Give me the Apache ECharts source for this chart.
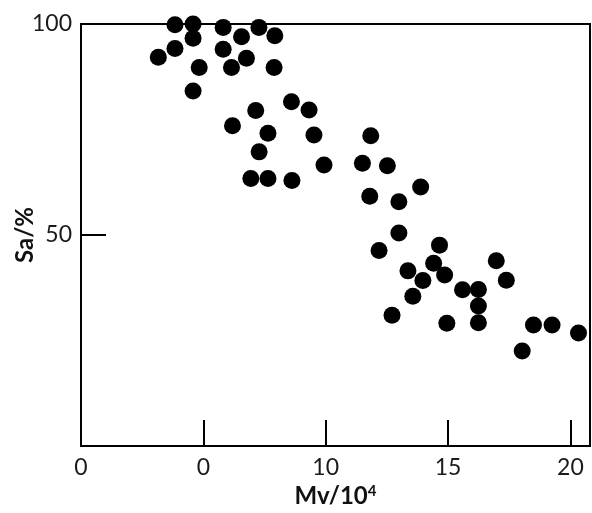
<!DOCTYPE html>
<html>
<head>
<meta charset="utf-8">
<script src="https://cdn.jsdelivr.net/npm/echarts@6/dist/echarts.min.js"></script>
<style>
html,body{margin:0;padding:0;background:#fff;}
#c{width:592px;height:513px;}
</style>
</head>
<body>
<div id="c"></div>
<script>
// Mv/10^4 values
var mv = [3.16,3.84,3.84,4.58,4.58,4.83,4.58,5.81,5.81,6.15,6.56,6.76,7.27,7.92,7.89,
  6.19,7.14,7.64,7.28,6.94,7.64,8.60,9.32,9.52,9.93,8.62,
  11.84,11.50,12.52,13.88,11.80,12.99,12.99,12.18,14.65,14.41,13.36,14.86,13.97,15.59,16.24,13.56,16.24,12.71,14.95,16.24,
  16.97,17.38,18.49,19.25,20.33,18.03];
// Sa/% values
var sa = [92.1,94.2,99.8,100.0,96.6,89.7,84.1,99.2,94.0,89.7,97.0,91.9,99.2,97.2,89.7,
  75.9,79.5,74.1,69.7,63.4,63.4,81.6,79.6,73.7,66.6,62.9,
  73.5,67.0,66.4,61.4,59.2,57.9,50.5,46.3,47.6,43.3,41.5,40.5,39.2,37.0,37.1,35.5,33.2,31.0,29.1,29.2,
  43.9,39.3,28.7,28.7,26.8,22.5];
// tick labels as printed on the original
var xTickLabels = {0:'0',5:'0',10:'10',15:'15',20:'20'};
var yTickLabels = {50:'50',100:'100'};

var pts = mv.map(function(v,i){return [v, sa[i]];});
var FONT = 'Lato, "Open Sans", sans-serif';
var chart = echarts.init(document.getElementById('c'), null, {renderer:'canvas'});
chart.setOption({
  animation:false,
  backgroundColor:'#fff',
  grid:{left:81,right:2,top:24,bottom:67,outerBoundsMode:'none',containLabel:false,
        show:true,borderColor:'#000',borderWidth:2,backgroundColor:'transparent'},
  xAxis:{
    type:'value',min:0,max:20.8,interval:5,
    name:'{a|Mv/10}{b|4}',nameLocation:'middle',nameGap:38,nameMoveOverlap:false,
    nameTextStyle:{rich:{a:{fontFamily:FONT,fontWeight:'bold',fontSize:24,color:'#111'},
                         b:{fontFamily:FONT,fontWeight:'bold',fontSize:15,color:'#111',verticalAlign:'top'}}},
    axisLine:{lineStyle:{color:'#000',width:2}},
    axisTick:{inside:true,length:26,lineStyle:{color:'#000',width:2}},
    axisLabel:{margin:10,fontFamily:FONT,fontSize:23,color:'#1a1a1a',
      formatter:function(v){return xTickLabels.hasOwnProperty(v)?xTickLabels[v]:'';}},
    splitLine:{show:false}
  },
  yAxis:{
    type:'value',min:0,max:100,interval:50,
    name:'Sa/%',nameLocation:'middle',nameGap:44,nameMoveOverlap:false,
    nameTextStyle:{fontFamily:FONT,fontWeight:'bold',fontSize:24,color:'#111'},
    axisLine:{lineStyle:{color:'#000',width:2}},
    axisTick:{inside:true,length:25,lineStyle:{color:'#000',width:2}},
    axisLabel:{margin:9,fontFamily:FONT,fontSize:23,color:'#1a1a1a',
      formatter:function(v){return yTickLabels.hasOwnProperty(v)?yTickLabels[v]:'';}},
    splitLine:{show:false}
  },
  series:[{
    type:'scatter',data:pts,symbol:'circle',symbolSize:17,clip:false,
    itemStyle:{color:'#000',opacity:1}
  }]
});
</script>
</body>
</html>
